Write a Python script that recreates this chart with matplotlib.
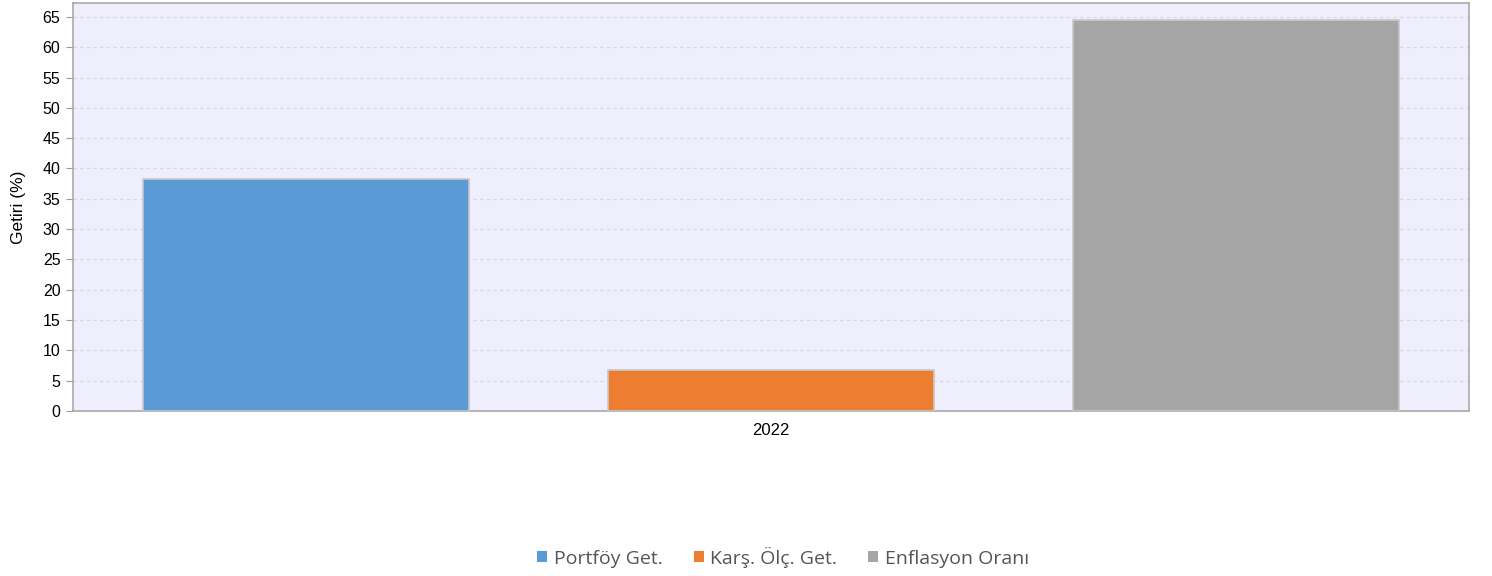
import matplotlib.pyplot as plt
from matplotlib.patches import Patch

series = ['Portföy Get.', 'Karş. Ölç. Get.', 'Enflasyon Oranı']
values = [38.3, 6.8, 64.5]
colors = ['#5B9BD5', '#ED7D31', '#A5A5A5']
year = '2022'
yticks = list(range(0, 70, 5))

plt.rcParams['font.family'] = ['Liberation Sans', 'DejaVu Sans']

fig = plt.figure(figsize=(14.92, 5.76), dpi=100)
ax = fig.add_axes([0.0489, 0.2865, 0.9357, 0.7083])
ax.set_facecolor('#EEEEFD')

ax.bar(range(len(values)), values, width=0.7, color=colors,
       edgecolor='#C8C8C8', linewidth=1.2, zorder=3)

ax.set_xlim(-0.5, 2.5)
ax.set_ylim(0, 67.3)
ax.set_yticks(yticks)
ax.set_xticks([1])
ax.set_xticklabels([year])
ax.tick_params(axis='x', length=0, labelsize=12, pad=9)
ax.tick_params(axis='y', length=5, color='#999999', labelsize=11.5, pad=4)
ax.set_ylabel('Getiri (%)', fontsize=12.5, labelpad=12)
ax.yaxis.grid(True, linestyle=(0, (3, 3)), color='#D8D8E2', linewidth=0.8, zorder=0)

for side in ['left', 'bottom', 'top', 'right']:
    ax.spines[side].set_color('#AAAAAA')
    ax.spines[side].set_linewidth(1.2)

handles = [Patch(facecolor=c, edgecolor='none', label=s) for s, c in zip(series, colors)]
leg = fig.legend(handles=handles, loc='center', bbox_to_anchor=(0.525, 0.033), ncol=3,
                 frameon=False, handlelength=0.5, handleheight=0.5, handletextpad=0.35,
                 columnspacing=1.6, prop={'family': 'Open Sans', 'size': 14})
for t in leg.get_texts():
    t.set_color('#555555')

fig.savefig('out.png', dpi=100)
